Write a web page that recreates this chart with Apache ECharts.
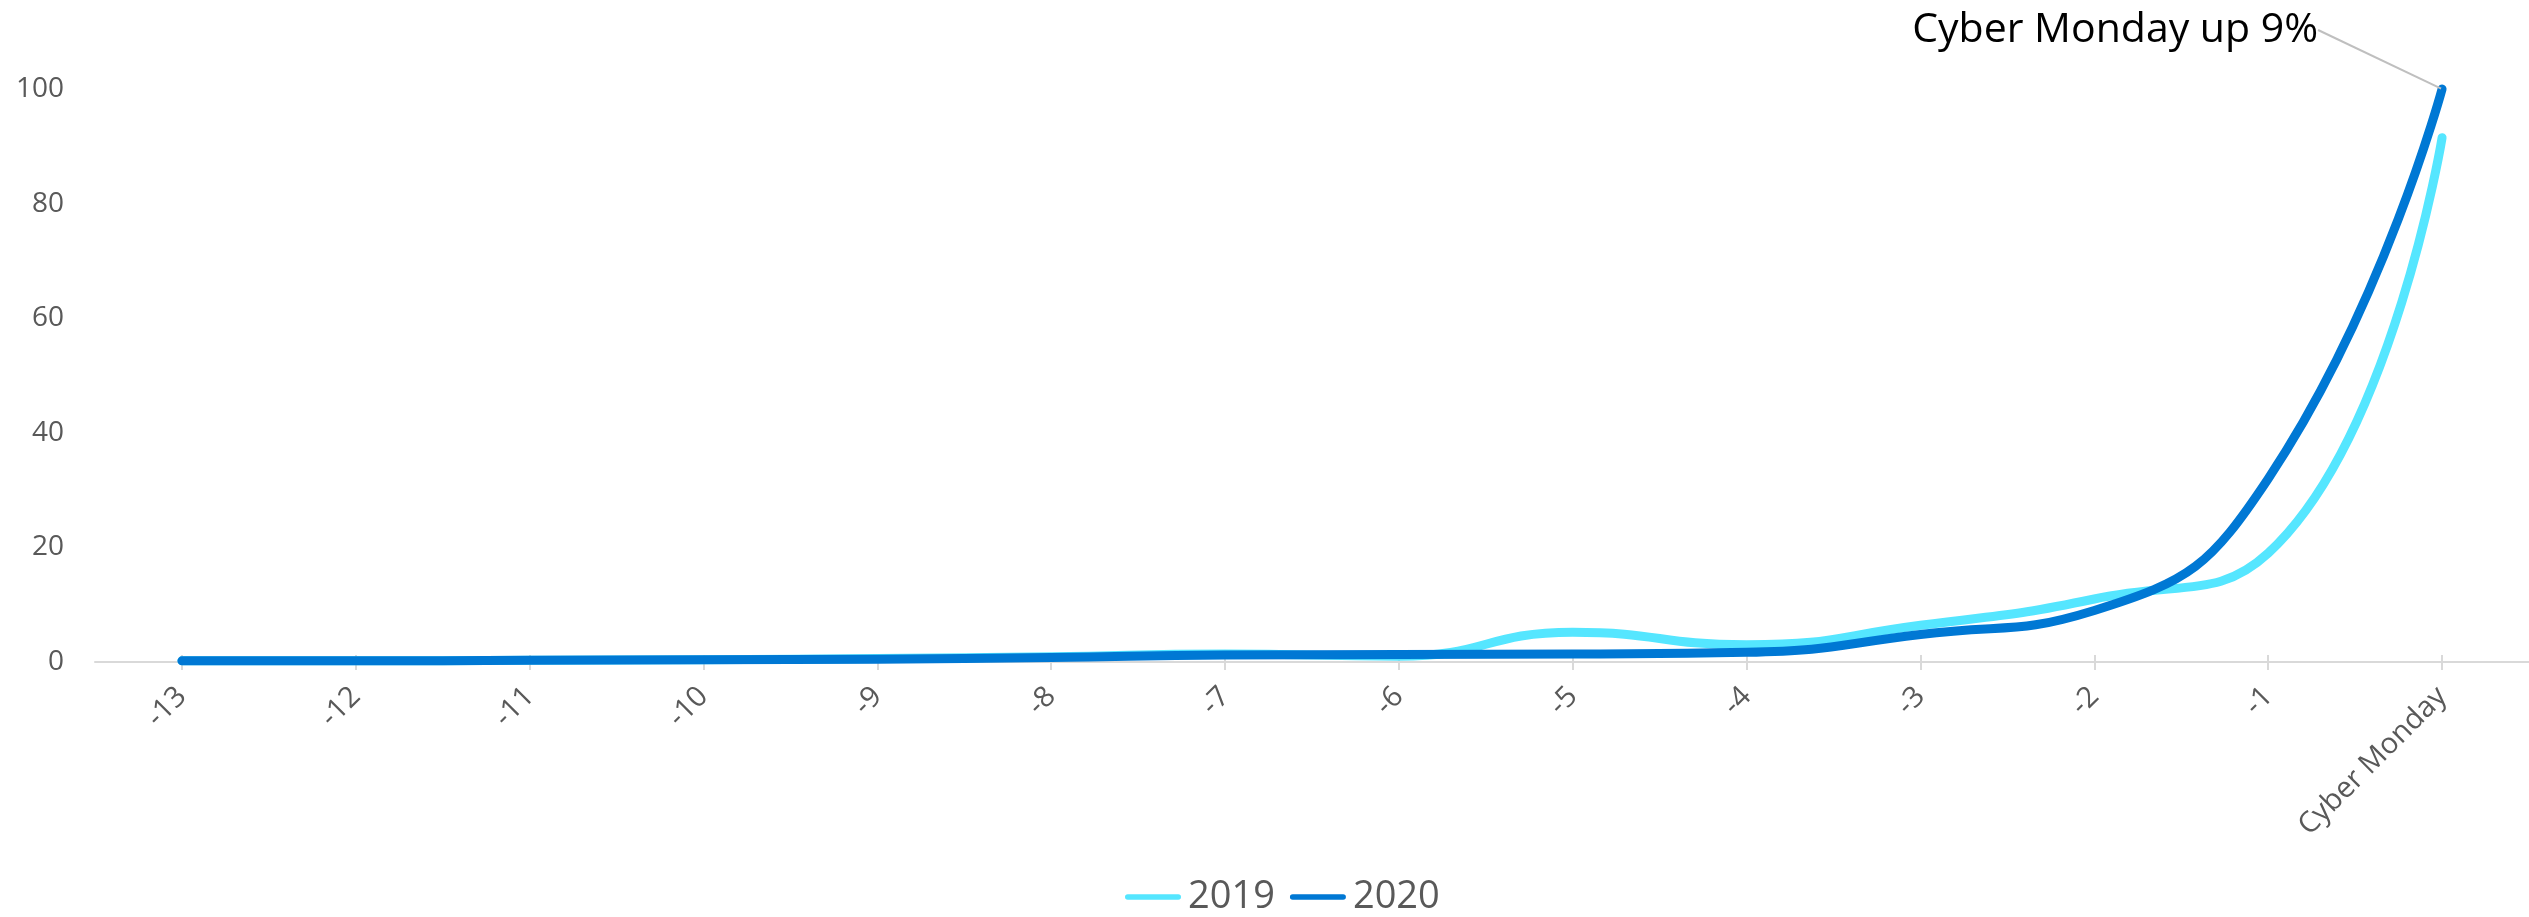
<!DOCTYPE html>
<html>
<head>
<meta charset="utf-8">
<script src="https://cdn.jsdelivr.net/npm/echarts@6/dist/echarts.min.js"></script>
<style>
  html, body { margin: 0; padding: 0; background: #ffffff; }
  #chart { width: 2529px; height: 917px; }
</style>
</head>
<body>
<div id="chart"></div>
<script>
// ---- Data ----
const categories = ['-13', '-12', '-11', '-10', '-9', '-8', '-7', '-6', '-5', '-4', '-3', '-2', '-1', 'Cyber Monday'];
const seriesNames = ['2019', '2020'];
const values2019 = [0.2, 0.2, 0.3, 0.4, 0.6, 0.9, 1.4, 1.0, 5.2, 3.0, 6.4, 11.0, 19.0, 91.5];
const values2020 = [0.2, 0.2, 0.3, 0.4, 0.5, 0.8, 1.2, 1.3, 1.4, 1.7, 4.8, 9.0, 32.0, 100];
const yTicks = [0, 20, 40, 60, 80, 100];
const annotationText = 'Cyber Monday up 9%';

const FONT = '"Open Sans", "Noto Sans", sans-serif';
const chart = echarts.init(document.getElementById('chart'), null, { renderer: 'canvas' });

const lastIdx = values2020.length - 1;
const data2020 = values2020.map((v, i) => i === lastIdx ? {
  value: v,
  symbol: 'circle',
  symbolSize: 2,
  label: {
    show: true,
    position: 'left',
    distance: 5,
    formatter: annotationText,
    color: '#000000',
    fontSize: 41,
    fontFamily: FONT
  },
  labelLine: { show: true, lineStyle: { color: '#bfbfbf', width: 2 } }
} : { value: v, symbol: 'none' });

chart.setOption({
  animation: false,
  backgroundColor: '#ffffff',
  grid: { left: 95, right: -1, top: 89, bottom: 255, containLabel: false },
  legend: {
    data: seriesNames,
    left: 1120,
    top: 873,
    itemWidth: 56,
    itemHeight: 7,
    itemGap: 15,
    icon: 'path://M5,0 H95 A5,5 0 0 1 95,10 H5 A5,5 0 0 1 5,0 Z',
    textStyle: { fontSize: 38, color: '#595959', fontFamily: FONT, padding: [0, 0, 0, 2] }
  },
  xAxis: [{
    type: 'category',
    data: categories,
    boundaryGap: true,
    axisLine: { show: true, lineStyle: { color: '#d9d9d9', width: 2 } },
    axisTick: { show: true, alignWithLabel: true, length: 8, lineStyle: { color: '#d9d9d9', width: 2 } },
    axisLabel: { rotate: 45, margin: 30, fontSize: 29, color: '#595959', fontFamily: FONT, interval: 0 },
    splitLine: { show: false }
  }, {
    type: 'category',
    data: categories,
    boundaryGap: true,
    position: 'bottom',
    axisLine: { show: false },
    axisTick: { show: true, inside: true, alignWithLabel: true, length: 7, lineStyle: { color: '#d9d9d9', width: 2 } },
    axisLabel: { show: false },
    splitLine: { show: false }
  }],
  yAxis: {
    type: 'value',
    min: yTicks[0],
    max: yTicks[yTicks.length - 1],
    interval: yTicks[1] - yTicks[0],
    axisLine: { show: false },
    axisTick: { show: false },
    splitLine: { show: false },
    axisLabel: { margin: 31, fontSize: 28, color: '#595959', fontFamily: FONT }
  },
  series: [{
    name: seriesNames[0],
    type: 'line',
    data: values2019,
    smooth: 0.5,
    showSymbol: false,
    symbol: 'none',
    clip: false,
    color: '#55e6ff',
    lineStyle: { color: '#55e6ff', width: 9, cap: 'round', join: 'round' }
  }, {
    name: seriesNames[1],
    type: 'line',
    data: data2020,
    smooth: 0.5,
    showSymbol: true,
    showAllSymbol: true,
    symbol: 'none',
    clip: false,
    color: '#0078d4',
    itemStyle: { color: '#0078d4' },
    lineStyle: { color: '#0078d4', width: 9, cap: 'round', join: 'round' },
    labelLayout: { dx: -118, dy: -59 }
  }]
});
</script>
</body>
</html>
